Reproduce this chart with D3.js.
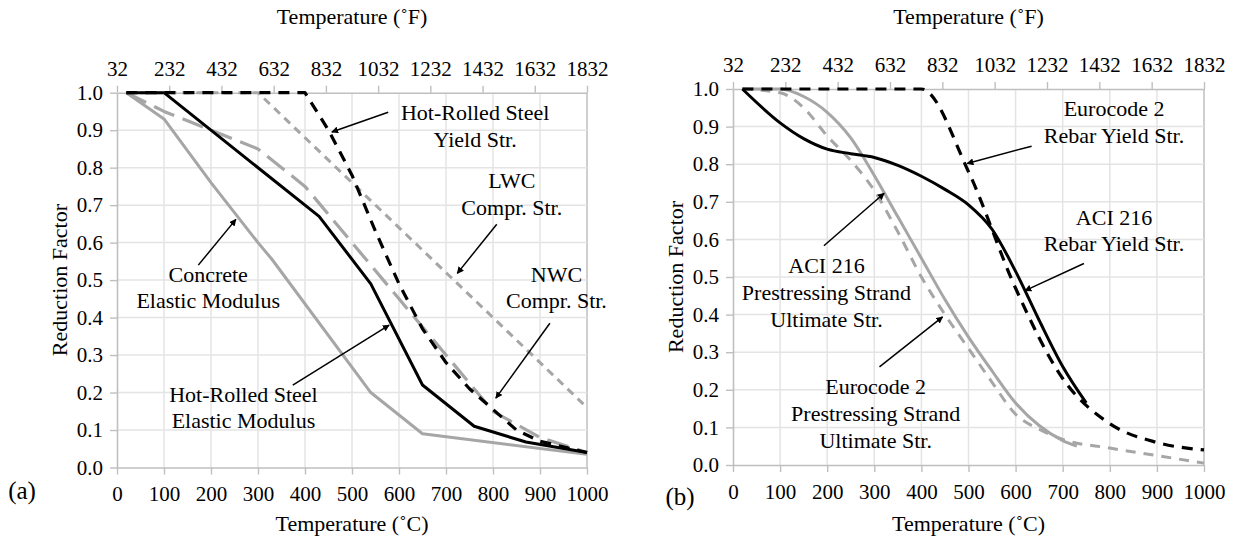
<!DOCTYPE html>
<html>
<head>
<meta charset="utf-8">
<script src="https://cdn.jsdelivr.net/npm/d3@7"></script>
<style>
  html, body { margin: 0; padding: 0; background: #fff; }
  svg text { font-family: "Liberation Serif", "Times New Roman", serif; fill: #000; }
</style>
</head>
<body>
<svg id="chart" width="1235" height="542"></svg>
<script>
// ---- axis ticks ----
const tempTicksC = [0, 100, 200, 300, 400, 500, 600, 700, 800, 900, 1000];
const tempTicksF = [32, 232, 432, 632, 832, 1032, 1232, 1432, 1632, 1832];
const factorTicks = [0, 0.1, 0.2, 0.3, 0.4, 0.5, 0.6, 0.7, 0.8, 0.9, 1.0];

// ---- panel (a): reduction factors, [temperature °C, factor] ----
const concreteModulus = [[20, 1.0], [100, 0.93], [200, 0.76], [300, 0.6], [330, 0.555], [540, 0.2], [650, 0.09], [1000, 0.035]];
const steelModulus = [[20, 1.0], [100, 1.0], [430, 0.67], [540, 0.49], [650, 0.22], [760, 0.11], [870, 0.068], [1000, 0.04]];
const steelYield = [[20, 1.0], [400, 1.0], [450, 0.9], [500, 0.78], [550, 0.63], [600, 0.49], [650, 0.37], [700, 0.28], [750, 0.21], [800, 0.155], [850, 0.1], [900, 0.07], [1000, 0.04]];
const nwcStrength = [[20, 1.0], [100, 0.95], [200, 0.9], [300, 0.85], [400, 0.75], [500, 0.6], [600, 0.45], [700, 0.3], [800, 0.15], [900, 0.08], [1000, 0.04]];
const lwcStrength = [[20, 1.0], [300, 1.0], [1000, 0.16]];

// ---- panel (b) ----
const ec2RebarYield = [[20, 1.0], [400, 1.0], [500, 0.78], [600, 0.47], [700, 0.23], [800, 0.11], [900, 0.06], [1000, 0.04]];
const aciRebarYield = [[20, 1.0], [100, 0.91], [150, 0.868], [200, 0.84], [250, 0.828], [300, 0.818], [350, 0.797], [400, 0.768], [450, 0.733], [500, 0.692], [550, 0.627], [600, 0.515], [650, 0.385], [700, 0.262], [750, 0.165]];
const aciStrandUlt = [[20, 1.0], [100, 1.0], [150, 0.98], [200, 0.938], [250, 0.87], [300, 0.77], [350, 0.66], [400, 0.55], [450, 0.44], [500, 0.34], [550, 0.25], [600, 0.165], [650, 0.105], [700, 0.065], [730, 0.05]];
const ec2StrandUlt = [[20, 1.0], [100, 0.99], [150, 0.95], [200, 0.875], [250, 0.81], [300, 0.73], [350, 0.62], [400, 0.5], [450, 0.4], [500, 0.31], [550, 0.22], [600, 0.135], [650, 0.095], [700, 0.068], [800, 0.045], [900, 0.025], [1000, 0.005]];

const GRAY = "#a6a6a6";

// series styling per panel
const panelA = {
  tag: "(a)",
  box: { left: 117, right: 587, top: 92.7, bottom: 467.5 },
  tagPos: [22, 493],
  curve: d3.curveLinear,
  series: [
    { data: lwcStrength, color: GRAY, width: 3, dash: "8,6" },
    { data: concreteModulus, color: GRAY, width: 3, dash: null },
    { data: nwcStrength, color: GRAY, width: 3.2, dash: "22,9" },
    { data: steelYield, color: "#000", width: 3.2, dash: "11,8" },
    { data: steelModulus, color: "#000", width: 3, dash: null }
  ],
  notes: [
    { lines: ["Hot-Rolled Steel", "Yield Str."], at: [762, 0.94], from: [577, 0.948], to: [457, 0.895] },
    { lines: ["LWC", "Compr. Str."], at: [840, 0.759], from: [808, 0.649], to: [724, 0.518] },
    { lines: ["NWC", "Compr. Str."], at: [935, 0.509], from: [921, 0.385], to: [806, 0.185] },
    { lines: ["Concrete", "Elastic Modulus"], at: [194, 0.509], from: [173, 0.54], to: [253, 0.662] },
    { lines: ["Hot-Rolled Steel", "Elastic Modulus"], at: [269, 0.189], from: [374, 0.22], to: [579, 0.38] }
  ]
};

const panelB = {
  tag: "(b)",
  box: { left: 733, right: 1204, top: 89, bottom: 465 },
  tagPos: [680, 499],
  curve: d3.curveMonotoneX,
  series: [
    { data: ec2StrandUlt, color: GRAY, width: 3, dash: "10,8" },
    { data: aciStrandUlt, color: GRAY, width: 3, dash: null },
    { data: ec2RebarYield, color: "#000", width: 3.2, dash: "11,8" },
    { data: aciRebarYield, color: "#000", width: 3, dash: null }
  ],
  notes: [
    { lines: ["Eurocode 2", "Rebar Yield Str."], at: [809, 0.942], from: [634, 0.848], to: [497, 0.802] },
    { lines: ["ACI 216", "Rebar Yield Str."], at: [809, 0.653], from: [745, 0.536], to: [620, 0.4636] },
    { lines: ["ACI 216", "Prestressing Strand", "Ultimate Str."], at: [198.5, 0.523], from: [193, 0.583], to: [321, 0.7226] },
    { lines: ["Eurocode 2", "Prestressing Strand", "Ultimate Str."], at: [303, 0.201], from: [311, 0.261], to: [445, 0.394] }
  ]
};

const svg = d3.select("#chart");

// arrowhead for callouts
svg.append("defs").append("marker")
  .attr("id", "arrowhead")
  .attr("viewBox", "0 0 10 10")
  .attr("refX", 9).attr("refY", 5)
  .attr("markerWidth", 7).attr("markerHeight", 7)
  .attr("markerUnits", "userSpaceOnUse")
  .attr("orient", "auto")
  .append("path")
  .attr("d", "M0,0 L10,5 L0,10 Z")
  .attr("fill", "#000");

function drawPanel(p) {
  const b = p.box;
  const x = d3.scaleLinear().domain([0, 1000]).range([b.left, b.right]);
  const xF = d3.scaleLinear().domain([32, 1832]).range([b.left, b.right]);
  const y = d3.scaleLinear().domain([0, 1]).range([b.bottom, b.top]);
  const g = svg.append("g");
  const cx = (b.left + b.right) / 2;

  // gridlines
  g.append("g").selectAll("line.v").data(tempTicksC.filter(d => d > 0))
    .join("line")
    .attr("x1", d => x(d)).attr("x2", d => x(d))
    .attr("y1", y(0)).attr("y2", y(1))
    .attr("stroke", d => d === 1000 ? "#cfcfcf" : "#e4e4e4")
    .attr("stroke-width", d => d === 1000 ? 2 : 1.5);
  g.append("g").selectAll("line.h").data(factorTicks.filter(d => d > 0 && d < 1))
    .join("line")
    .attr("x1", x(0)).attr("x2", x(1000))
    .attr("y1", d => y(d)).attr("y2", d => y(d))
    .attr("stroke", "#e4e4e4").attr("stroke-width", 1.5);

  const styleAxis = (sel, size) => {
    sel.select(".domain").attr("stroke", "#bfbfbf").attr("stroke-width", 1.6);
    sel.selectAll(".tick line").attr("stroke", "#bfbfbf").attr("stroke-width", 1.4);
    sel.selectAll(".tick text").attr("font-size", size).attr("font-family", "Liberation Serif, Times New Roman, serif").attr("fill", "#000");
  };

  // left axis
  g.append("g").attr("transform", `translate(${b.left},0)`)
    .call(d3.axisLeft(y).tickValues(factorTicks).tickFormat(d3.format(".1f")).tickSizeInner(7).tickSizeOuter(0).tickPadding(7))
    .call(s => styleAxis(s, 21));
  // bottom axis (°C)
  g.append("g").attr("transform", `translate(0,${b.bottom})`)
    .call(d3.axisBottom(x).tickValues(tempTicksC).tickFormat(d3.format("d")).tickSizeInner(7).tickSizeOuter(0).tickPadding(12))
    .call(s => styleAxis(s, 21));
  // top axis (°F)
  g.append("g").attr("transform", `translate(0,${b.top})`)
    .call(d3.axisTop(xF).tickValues(tempTicksF).tickFormat(d3.format("d")).tickSizeInner(7).tickSizeOuter(0).tickPadding(10))
    .call(s => styleAxis(s, 21));

  // axis titles
  g.append("text").attr("x", cx).attr("y", 19).attr("text-anchor", "middle")
    .attr("dominant-baseline", "middle").attr("font-size", 22).text("Temperature (˚F)");
  g.append("text").attr("x", cx).attr("y", 526).attr("text-anchor", "middle")
    .attr("dominant-baseline", "middle").attr("font-size", 22).text("Temperature (˚C)");
  g.append("text")
    .attr("transform", `translate(${b.left - 55},${(b.top + b.bottom) / 2}) rotate(-90)`)
    .attr("text-anchor", "middle").attr("dominant-baseline", "middle")
    .attr("font-size", 22).text("Reduction Factor");
  g.append("text").attr("x", p.tagPos[0]).attr("y", p.tagPos[1])
    .attr("text-anchor", "middle").attr("dominant-baseline", "middle")
    .attr("font-size", 25).text(p.tag);

  // data lines
  const line = d3.line().x(d => x(d[0])).y(d => y(d[1])).curve(p.curve);
  g.append("g").selectAll("path").data(p.series).join("path")
    .attr("d", d => line(d.data))
    .attr("fill", "none")
    .attr("stroke", d => d.color)
    .attr("stroke-width", d => d.width)
    .attr("stroke-dasharray", d => d.dash)
    .attr("stroke-linejoin", "round");

  // callouts
  const notes = g.append("g");
  p.notes.forEach(n => {
    notes.append("line")
      .attr("x1", x(n.from[0])).attr("y1", y(n.from[1]))
      .attr("x2", x(n.to[0])).attr("y2", y(n.to[1]))
      .attr("stroke", "#000").attr("stroke-width", 1.5)
      .attr("marker-end", "url(#arrowhead)");
    const t = notes.append("text")
      .attr("text-anchor", "middle").attr("font-size", 22);
    n.lines.forEach((s, i) => {
      t.append("tspan")
        .attr("x", x(n.at[0]))
        .attr("y", y(n.at[1]) + i * 26.7)
        .attr("dominant-baseline", "middle")
        .text(s);
    });
  });
}

drawPanel(panelA);
drawPanel(panelB);
</script>
</body>
</html>
